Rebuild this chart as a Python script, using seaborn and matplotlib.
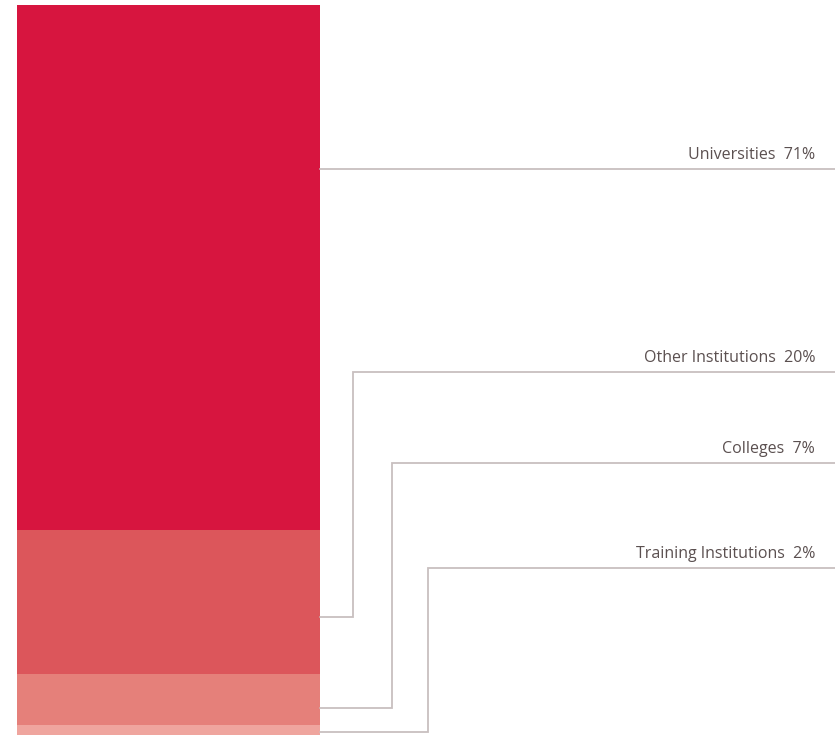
import numpy as np
import pandas as pd
import seaborn as sns
import matplotlib
matplotlib.use("Agg")
import matplotlib.pyplot as plt

# shares of the stacked bar, top to bottom
categories = ["Universities", "Other Institutions", "Colleges", "Training Institutions"]
shares = [71.4, 19.6, 7.0, 2.0]
share_labels = ["71%", "20%", "7%", "2%"]
colors = ["#D7153F", "#DC565B", "#E5807A", "#EFA59E"]

sns.set_style("white")
plt.rcParams["font.family"] = ["Open Sans", "DejaVu Sans"]

fig = plt.figure(figsize=(8.35, 7.35), dpi=100)
ax = fig.add_axes([0, 0, 1, 1])

# classic seaborn stacked bar: draw cumulative totals from the top segment down
cum = np.cumsum(shares[::-1])[::-1]
df = pd.DataFrame({"group": ["all"] * len(categories), "total": cum, "cat": categories})
for i in range(len(categories)):
    sns.barplot(data=df.iloc[[i]], x="group", y="total", color=colors[i],
                width=0.8, saturation=1, linewidth=0, edgecolor="none", ax=ax)

# map bar (-0.4..0.4) to pixels 17..320; bar bottom runs just past the image edge
unit = 303 / 0.8
left = -0.4 - 17 / unit
ax.set_xlim(left, left + 835 / unit)
px_per_pct = 7.35
ax.set_ylim(5 / px_per_pct, 5 / px_per_pct + 735 / px_per_pct)
ax.axis("off")

# leader lines and labels in pixel coordinates
ov = fig.add_axes([0, 0, 1, 1])
ov.set_xlim(0, 835)
ov.set_ylim(735, 0)
ov.axis("off")
ov.patch.set_alpha(0)

line_c = "#C8BFBF"
text_c = "#5B5050"
leaders = [
    [(320, 169), (835, 169)],
    [(320, 617), (353, 617), (353, 372), (835, 372)],
    [(320, 708), (392, 708), (392, 463), (835, 463)],
    [(320, 732), (428, 732), (428, 568), (835, 568)],
]
for i, pts in enumerate(leaders):
    xs, ys = zip(*pts)
    ov.plot(xs, ys, color=line_c, lw=1.3, solid_joinstyle="miter")
    ov.text(815, ys[-1] - 6, f"{categories[i]}  {share_labels[i]}",
            ha="right", va="bottom", fontsize=11.5, color=text_c)

fig.savefig("out.png", dpi=100)
